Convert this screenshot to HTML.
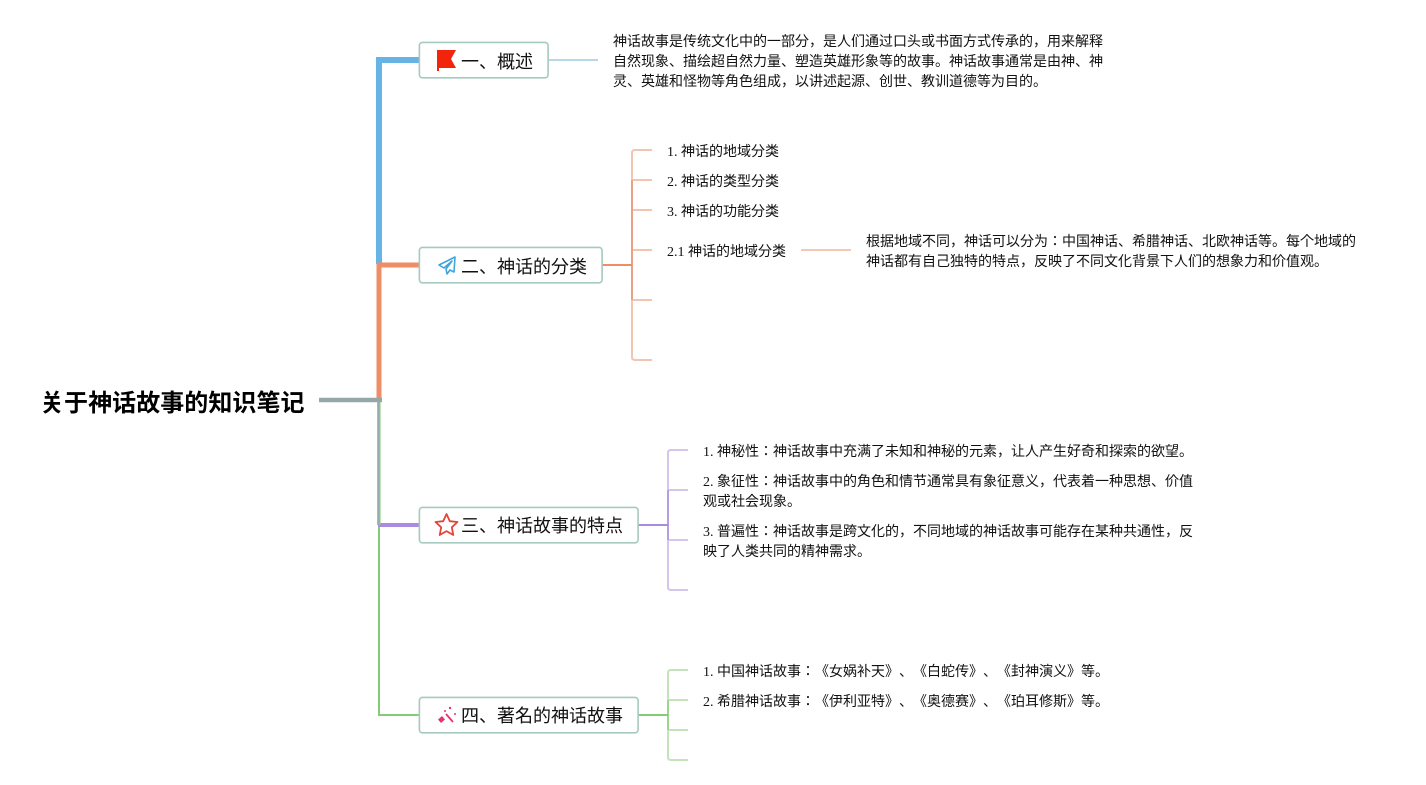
<!DOCTYPE html>
<html><head><meta charset="utf-8">
<style>
html,body{margin:0;padding:0;background:#fff;width:1426px;height:785px;overflow:hidden}
#c{position:relative;width:1426px;height:785px;font-family:"Liberation Serif","Noto Sans CJK JP",serif;color:#111;text-spacing-trim:space-all;font-kerning:none}
svg{position:absolute;left:0;top:0}
.t{position:absolute;font-size:14px;line-height:20px;white-space:nowrap}
.l{position:absolute;font-size:18px;line-height:26px;white-space:nowrap}
.r{position:absolute;left:40px;top:388.500px;font-size:24px;line-height:30px;font-weight:bold;white-space:nowrap;letter-spacing:0.05px;color:#000}
</style></head><body><div id="c">
<svg width="1426" height="785" viewBox="0 0 1426 785" fill="none">
<path d="M419 715H379V525" stroke="#84cc78" stroke-width="2"/>
<path d="M378 525H419" stroke="#a98ce0" stroke-width="4"/>
<path d="M378 400V525" stroke="#a98ce0" stroke-width="1.5"/>
<path d="M379.500 400V525" stroke="#84cc78" stroke-width="2"/>
<path d="M379 264V60H419" stroke="#66b3e6" stroke-width="6"/>
<path d="M379 402V265H419" stroke="#ee8d66" stroke-width="5"/>
<path d="M319 400H382" stroke="#95a7a7" stroke-width="4.500"/>
<path d="M549 60H598" stroke="#b5d7ea" stroke-width="2"/>
<path d="M652 150H635Q632 150 632 153V357Q632 360 635 360H652M632 180H652M632 210H652M632 250H652M632 300H652" stroke="#f2c5b0" stroke-width="2"/>
<path d="M632 180V300" stroke="#eba184" stroke-width="2"/>
<path d="M602 265H632" stroke="#ee8d66" stroke-width="2"/>
<path d="M801 250H851" stroke="#f3c8b4" stroke-width="2"/>
<path d="M688 450H671Q668 450 668 453V587Q668 590 671 590H688M668 490H688M668 540H688" stroke="#d2c6ea" stroke-width="2"/>
<path d="M668 490V540" stroke="#b79ee0" stroke-width="2"/>
<path d="M638 525H668" stroke="#a98ce0" stroke-width="2"/>
<path d="M688 670H671Q668 670 668 673V757Q668 760 671 760H688M668 700H688M668 730H688" stroke="#c4e3bd" stroke-width="2"/>
<path d="M668 700V730" stroke="#9cd490" stroke-width="2"/>
<path d="M638 715H668" stroke="#84cc78" stroke-width="2"/>

<rect x="419.400" y="42.400" width="128.700" height="35.400" rx="3" fill="#fff" stroke="#a6c9c0" stroke-width="1.600"/>
<rect x="419.400" y="247.400" width="182.700" height="35.400" rx="3" fill="#fff" stroke="#a6c9c0" stroke-width="1.600"/>
<rect x="419.400" y="507.400" width="218.700" height="35.400" rx="3" fill="#fff" stroke="#a6c9c0" stroke-width="1.600"/>
<rect x="419.400" y="697.400" width="218.700" height="35.400" rx="3" fill="#fff" stroke="#a6c9c0" stroke-width="1.600"/>

<path d="M437 50H456L451 59L456 68H439V71H437Z" fill="#f2240c"/>
<path d="M455 257L439 265L444 268L452 261L446 269L447 274L450 270L454 272Z" stroke="#3fa5dc" stroke-width="1.600" stroke-linejoin="round"/>
<path d="M446.500 514L449.800 521.200L457.500 522L451.800 527.300L453.300 535L446.500 531.100L439.700 535L441.200 527.300L435.500 522L443.200 521.200Z" stroke="#e4453a" stroke-width="1.800" stroke-linejoin="round"/>
<path d="M446 714L453 722" stroke="#e8336d" stroke-width="1.800"/>
<path d="M442 716L445 719.500L441 723L438 719.500Z" fill="#e8336d"/>
<circle cx="450" cy="708" r="1.200" fill="#e8336d"/><circle cx="455" cy="714" r="1" fill="#e8336d"/><circle cx="445" cy="711" r="1" fill="#e8336d"/>
</svg>

<div class="r">关于神话故事的知识笔记</div>
<div class="l" style="left:461px;top:49px">一、概述</div>
<div class="l" style="left:461px;top:254px">二、神话的分类</div>
<div class="l" style="left:461px;top:513px">三、神话故事的特点</div>
<div class="l" style="left:461px;top:703px">四、著名的神话故事</div>

<div class="t" style="left:613px;top:33px">神话故事是传统文化中的一部分，是人们通过口头或书面方式传承的，用来解释<br>自然现象、描绘超自然力量、塑造英雄形象等的故事。神话故事通常是由神、神<br>灵、英雄和怪物等角色组成，以讲述起源、创世、教训道德等为目的。</div>

<div class="t" style="left:667px;top:143px">1. 神话的地域分类</div>
<div class="t" style="left:667px;top:173px">2. 神话的类型分类</div>
<div class="t" style="left:667px;top:203px">3. 神话的功能分类</div>
<div class="t" style="left:667px;top:243px">2.1 神话的地域分类</div>
<div class="t" style="left:866px;top:233px">根据地域不同，神话可以分为：中国神话、希腊神话、北欧神话等。每个地域的<br>神话都有自己独特的特点，反映了不同文化背景下人们的想象力和价值观。</div>

<div class="t" style="left:703px;top:443px">1. 神秘性：神话故事中充满了未知和神秘的元素，让人产生好奇和探索的欲望。</div>
<div class="t" style="left:703px;top:473px">2. 象征性：神话故事中的角色和情节通常具有象征意义，代表着一种思想、价值<br>观或社会现象。</div>
<div class="t" style="left:703px;top:523px">3. 普遍性：神话故事是跨文化的，不同地域的神话故事可能存在某种共通性，反<br>映了人类共同的精神需求。</div>

<div class="t" style="left:703px;top:663px">1. 中国神话故事：《女娲补天》、《白蛇传》、《封神演义》等。</div>
<div class="t" style="left:703px;top:693px">2. 希腊神话故事：《伊利亚特》、《奥德赛》、《珀耳修斯》等。</div>
</div></body></html>
